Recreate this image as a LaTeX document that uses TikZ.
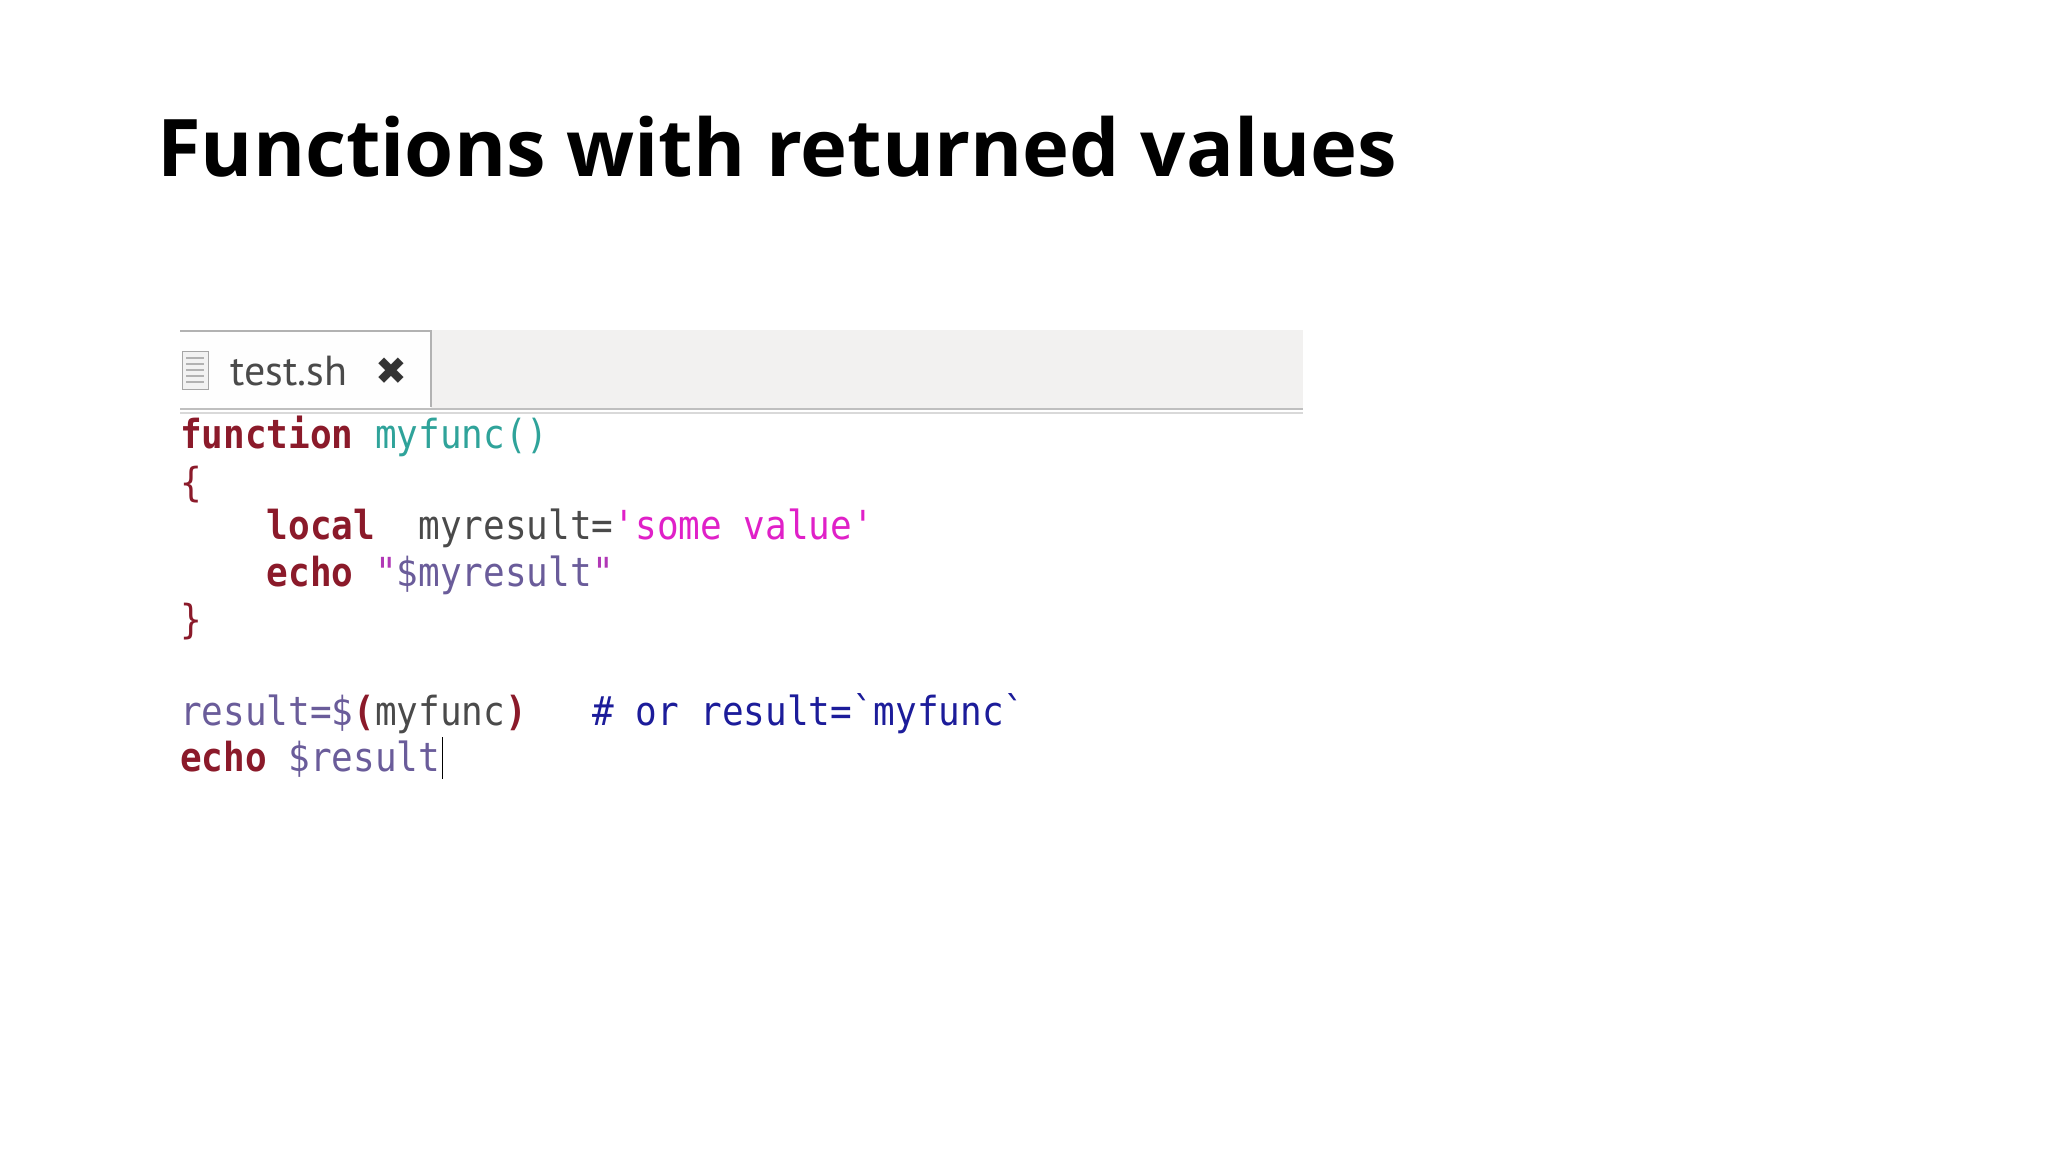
\documentclass[tikz,border=0pt]{standalone}
\usepackage{fontspec}
\setmainfont{Open Sans}
\setmonofont{DejaVu Sans Mono}
\newfontfamily\djsans{DejaVu Sans}
\newfontfamily\tabfont{PT Sans}
\definecolor{kw}{HTML}{8B1A2A}
\definecolor{fn}{HTML}{2FA39A}
\definecolor{str}{HTML}{E020C8}
\definecolor{txt}{HTML}{4A4A4A}
\definecolor{var}{HTML}{6A5C9A}
\definecolor{cmt}{HTML}{1C1C9A}
\definecolor{barbg}{HTML}{F2F1F0}
\begin{document}
\begin{tikzpicture}[x=1pt,y=-1pt,
  code/.style={anchor=base west,inner sep=0pt,font=\fontsize{40}{40}\selectfont\ttfamily},
]
\useasboundingbox (0,0) rectangle (2048,1152);
\fill[white] (0,0) rectangle (2048,1152);
\node[anchor=base west,inner sep=0pt] (title) at (157,176)
  {\resizebox{1240pt}{!}{\fontsize{100}{100}\selectfont\bfseries Functions with returned values}};
% tab bar
\fill[barbg] (180,330) rectangle (1303,409);
\fill[white!97!barbg] (180,330) rectangle (431,409);
\draw[gray!60,line width=1.5pt] (180,331) -- (431,331) -- (431,407);
\draw[gray!50,line width=2pt] (180,409) -- (1303,409);
\draw[gray!30,line width=1.5pt] (180,413) -- (1303,413);
% file icon
\node[draw=gray!70,fill=gray!10,minimum width=26pt,minimum height=38pt,inner sep=0pt] (icon) at (195,370) {};
\foreach \yy in {358,364,370,376,382}{\draw[gray!60,line width=1.2pt] (186,\yy) -- (204,\yy);}
\node[anchor=base west,inner sep=0pt,text=txt,font=\fontsize{42}{42}\selectfont\tabfont] (tab) at (230,385) {test.sh};
\node[anchor=base west,inner sep=0pt,text=gray!40!black,font=\fontsize{38}{38}\selectfont\djsans] (close) at (375,384) {✖};
% code
\node[code] (l1) at (180,448) {\scalebox{0.9}[1]{\textcolor{kw}{\bfseries function} \textcolor{fn}{myfunc()}}};
\node[code] (l2) at (180,496) {\scalebox{0.9}[1]{\textcolor{kw}{\{}}};
\node[code] (l3) at (180,539) {\scalebox{0.9}[1]{\phantom{xxxx}\textcolor{kw}{\bfseries local}\ \ \textcolor{txt}{myresult=}\textcolor{str}{\char"27 some value\char"27}}};
\node[code] (l4) at (180,586) {\scalebox{0.9}[1]{\phantom{xxxx}\textcolor{kw}{\bfseries echo} \textcolor{str!60!var}{\char"22}\textcolor{var}{\$myresult}\textcolor{str!60!var}{\char"22}}};
\node[code] (l5) at (180,633) {\scalebox{0.9}[1]{\textcolor{kw}{\}}}};
\node[code] (l6) at (180,725) {\scalebox{0.9}[1]{\textcolor{var}{result=\$}\textcolor{kw}{\bfseries(}\textcolor{txt}{myfunc}\textcolor{kw}{\bfseries)}\ \ \ \textcolor{cmt}{\# or result=\char"60 myfunc\char"60}}};
\node[code] (l7) at (180,771) {\scalebox{0.9}[1]{\textcolor{kw}{\bfseries echo} \textcolor{var}{\$result}}};
\draw[black,line width=1.5pt] ([xshift=2pt]l7.base east) ++(0,8) -- ++(0,-42);
\end{tikzpicture}
\end{document}
